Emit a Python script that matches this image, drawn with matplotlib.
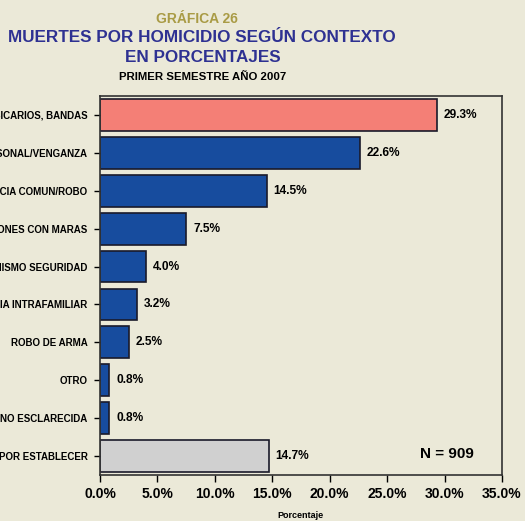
import matplotlib.pyplot as plt
from matplotlib.ticker import FuncFormatter

plt.rcParams['font.family'] = ['Liberation Sans', 'DejaVu Sans']
plt.rcParams['font.weight'] = 'bold'

# data
categories = [
    "SICARIOS, BANDAS",
    "PERSONAL/VENGANZA",
    "DELINCUENCIA COMUN/ROBO",
    "AGRESIONES CON MARAS",
    "MECANISMO SEGURIDAD",
    "VIOLENCIA INTRAFAMILIAR",
    "ROBO DE ARMA",
    "OTRO",
    "NO ESCLARECIDA",
    "POR ESTABLECER",
]
values = [29.3, 22.6, 14.5, 7.5, 4.0, 3.2, 2.5, 0.8, 0.8, 14.7]
x_ticks = [0, 5, 10, 15, 20, 25, 30, 35]

BG = "#EBE9D8"
BLUE = "#174C9E"
PINK = "#F47F76"
GRAY = "#D0D0D0"
colors = [PINK] + [BLUE] * 8 + [GRAY]

fig = plt.figure(figsize=(5.25, 5.21), dpi=100, facecolor=BG)
W, H = 525, 521
ax = fig.add_axes([100 / W, 1 - 475 / H, 402 / W, (475 - 96) / H], facecolor=BG)

ypos = list(range(len(categories)))
ax.barh(ypos, values, height=0.84, color=colors, edgecolor="#1a1a2a", linewidth=1.2)

for y, v in zip(ypos, values):
    ax.text(v + 0.6, y, f"{v:.1f}%", va="center", ha="left", fontsize=8.6, fontweight="bold")

ax.set_xlim(0, 35)
ax.set_ylim(9.5, -0.5)
ax.set_xticks(x_ticks)
ax.xaxis.set_major_formatter(FuncFormatter(lambda v, p: f"{v:.1f}%"))
ax.set_yticks(ypos)
ax.set_yticklabels(categories, fontsize=7, fontweight="bold")
ax.tick_params(axis="x", labelsize=10, length=5, width=1.0, pad=4)
ax.tick_params(axis="y", length=4, width=1.0, pad=5)
for lbl in ax.get_xticklabels():
    lbl.set_fontweight("bold")
for s in ax.spines.values():
    s.set_color("#333333")
    s.set_linewidth(1.2)

# x axis title
fig.text(300 / W, 1 - 516 / H, "Porcentaje", ha="center", va="center",
         fontsize=6.5, fontweight="bold")

ax.text(0.93, 0.055, "N = 909", transform=ax.transAxes, ha="right", va="center",
        fontsize=11, fontweight="bold")

fig.text(197 / W, 1 - 19 / H, "GRÁFICA 26", ha="center", va="center",
         fontsize=10, fontweight="bold", color="#A99B45")
fig.text(202 / W, 1 - 37 / H, "MUERTES POR HOMICIDIO SEGÚN CONTEXTO", ha="center", va="center",
         fontsize=12.3, fontweight="bold", color="#2E3192")
fig.text(203 / W, 1 - 57 / H, "EN PORCENTAJES", ha="center", va="center",
         fontsize=12.3, fontweight="bold", color="#2E3192")
fig.text(203 / W, 1 - 77 / H, "PRIMER SEMESTRE AÑO 2007", ha="center", va="center",
         fontsize=8.2, fontweight="bold", color="black")

fig.savefig("out.png", dpi=100, facecolor=BG)
